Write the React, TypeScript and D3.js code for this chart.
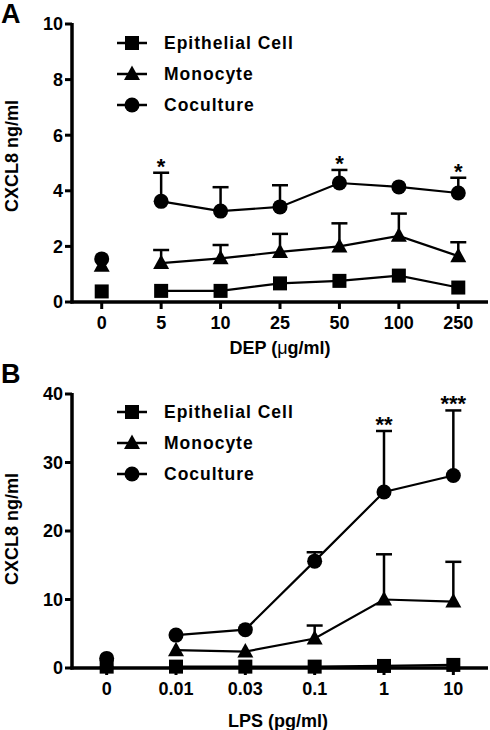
import React from "react";
import * as d3 from "d3";

const doseA = ["0", "5", "10", "25", "50", "100", "250"];
const epiA = [0.38, 0.4, 0.4, 0.67, 0.76, 0.95, 0.52];
const monoA = [1.3, 1.4, 1.57, 1.8, 2.0, 2.38, 1.65];
const monoAErr = [0, 0.47, 0.48, 0.65, 0.83, 0.8, 0.5];
const cocA = [1.55, 3.62, 3.27, 3.42, 4.28, 4.14, 3.92];
const cocAErr = [0, 1.03, 0.86, 0.78, 0.47, 0, 0.55];
const sigA = ["", "*", "", "", "*", "", "*"];
const yTicksA = [0, 2, 4, 6, 8, 10];

const doseB = ["0", "0.01", "0.03", "0.1", "1", "10"];
const epiB = [0.2, 0.2, 0.2, 0.2, 0.3, 0.45];
const monoB = [0.8, 2.6, 2.4, 4.3, 10.0, 9.7];
const monoBErr = [0, 0, 0, 1.9, 6.6, 5.8];
const cocB = [1.4, 4.8, 5.6, 15.6, 25.7, 28.1];
const cocBErr = [0, 0, 0, 1.3, 8.9, 9.5];
const sigB = ["", "", "", "", "**", "***"];
const yTicksB = [0, 10, 20, 30, 40];

const seriesNames = ["Epithelial Cell", "Monocyte", "Coculture"];
const markerTypes = ["square", "triangle", "circle"];

const FONT = "'Liberation Sans', Arial, Helvetica, sans-serif";

function Marker({ type, x, y }: { type: string; x: number; y: number }) {
  if (type === "square") return <rect x={x - 7} y={y - 7} width={14} height={14} fill="#000" />;
  if (type === "circle") return <circle cx={x} cy={y} r={7.5} fill="#000" />;
  return <path d={`M${x},${y - 8.5}L${x + 8},${y + 6}L${x - 8},${y + 6}Z`} fill="#000" />;
}

function Panel(p: any) {
  const x = d3.scalePoint<string>().domain(p.cats).range([72, 488]).padding(0.5);
  const y = d3.scaleLinear().domain([0, p.yMax]).range([p.bottom, p.top]);
  const line = d3
    .line<number>()
    .x((_, i) => x(p.cats[i + 1]) as number)
    .y((d) => y(d));
  const axisX0 = 72;
  return (
    <g fontFamily={FONT} fontWeight="bold">
      <text x={1} y={p.letterY} fontSize={27} fontWeight="bold">{p.letter}</text>
      {p.series.map((s: number[], si: number) => (
        <path key={"l" + si} d={line(s.slice(1)) || ""} fill="none" stroke="#000" strokeWidth={2.2} />
      ))}
      {p.errs.map((e: number[], si: number) =>
        e.map((v, i) => {
          if (!v) return null;
          const cx = x(p.cats[i]) as number;
          const y0 = y(p.series[si][i]);
          const y1 = y(p.series[si][i] + v);
          return (
            <g key={"e" + si + "-" + i}>
              <line x1={cx} x2={cx} y1={y0} y2={y1} stroke="#000" strokeWidth={2.5} />
              <line x1={cx - 8} x2={cx + 8} y1={y1} y2={y1} stroke="#000" strokeWidth={2.5} />
            </g>
          );
        })
      )}
      {p.sig.map((s: string, i: number) => {
        if (!s) return null;
        const top = y(p.series[2][i] + p.errs[2][i]);
        return (
          <text key={"s" + i} x={x(p.cats[i])} y={top + 1} textAnchor="middle" fontSize={22}>
            {s}
          </text>
        );
      })}
      {p.series.map((s: number[], si: number) =>
        s.map((v, i) => <Marker key={"m" + si + "-" + i} type={markerTypes[si]} x={x(p.cats[i]) as number} y={y(v)} />)
      )}
      <line x1={axisX0} x2={axisX0} y1={p.top - 1} y2={p.bottom + 1.5} stroke="#000" strokeWidth={3.5} />
      <line x1={axisX0 - 1.5} x2={488} y1={p.bottom} y2={p.bottom} stroke="#000" strokeWidth={3.5} />
      {p.yTicks.map((t: number) => (
        <g key={"yt" + t}>
          <line x1={axisX0 - 7} x2={axisX0} y1={y(t)} y2={y(t)} stroke="#000" strokeWidth={3} />
          <text x={axisX0 - 9} y={y(t)} dy="0.36em" textAnchor="end" fontSize={18}>{t}</text>
        </g>
      ))}
      {p.cats.map((c: string) => (
        <g key={"xt" + c}>
          <line x1={x(c)} x2={x(c)} y1={p.bottom} y2={p.bottom + 7} stroke="#000" strokeWidth={3} />
          <text x={x(c)} y={p.bottom + 27} textAnchor="middle" fontSize={18}>{c}</text>
        </g>
      ))}
      <text
        transform={`translate(18,${p.yTitleY}) rotate(-90)`}
        textAnchor="middle"
        fontSize={18}
      >
        CXCL8 ng/ml
      </text>
      {p.xTitle}
      {seriesNames.map((n, i) => {
        const ly = p.legendY + i * 31;
        return (
          <g key={"lg" + i}>
            <line x1={117} x2={147} y1={ly} y2={ly} stroke="#000" strokeWidth={2.5} />
            <Marker type={markerTypes[i]} x={132} y={ly} />
            <text x={164} y={ly} dy="0.36em" fontSize={17.5} letterSpacing={1}>{n}</text>
          </g>
        );
      })}
    </g>
  );
}

export default function App() {
  const panelA = {
    letter: "A",
    top: 24,
    bottom: 302,
    cats: doseA,
    yMax: 10,
    yTicks: yTicksA,
    series: [epiA, monoA, cocA],
    errs: [doseA.map(() => 0), monoAErr, cocAErr],
    sig: sigA,
    legendY: 43,
    letterY: 23,
    yTitleY: 156,
    xTitle: (
      <text x={280} y={354} textAnchor="middle" fontSize={18}>
        DEP (<tspan fontWeight="normal">μ</tspan>g/ml)
      </text>
    ),
  };
  const panelB = {
    letter: "B",
    top: 394,
    bottom: 668,
    cats: doseB,
    yMax: 40,
    yTicks: yTicksB,
    series: [epiB, monoB, cocB],
    errs: [doseB.map(() => 0), monoBErr, cocBErr],
    sig: sigB,
    legendY: 412,
    letterY: 383,
    yTitleY: 529,
    xTitle: (
      <text x={278} y={727} textAnchor="middle" fontSize={18}>
        LPS (pg/ml)
      </text>
    ),
  };
  return (
    <svg width={490} height={730} style={{ position: "absolute", left: 0, top: 0, background: "#fff" }}>
      <rect width={490} height={730} fill="#fff" />
      <Panel {...panelA} />
      <Panel {...panelB} />
    </svg>
  );
}
